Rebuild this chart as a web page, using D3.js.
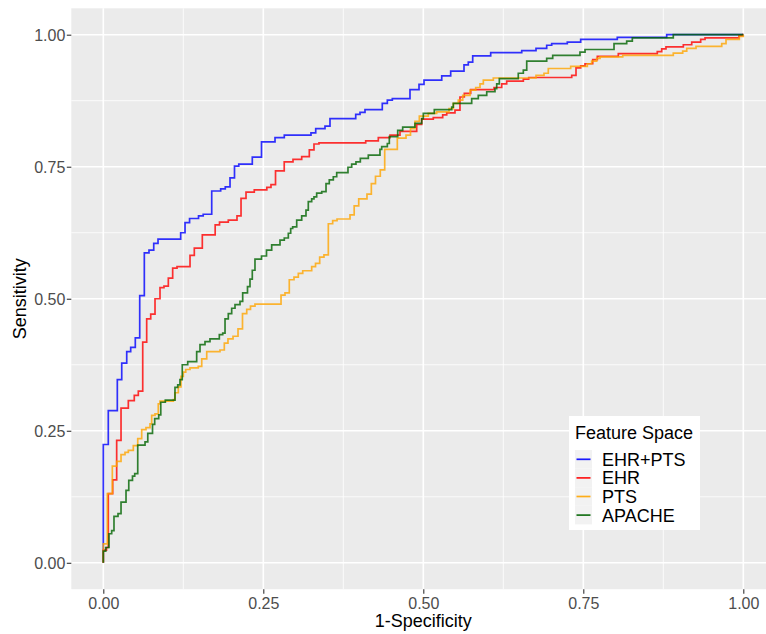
<!DOCTYPE html>
<html>
<head>
<meta charset="utf-8">
<script src="https://cdn.jsdelivr.net/npm/d3@7"></script>
<style>
  html, body { margin: 0; padding: 0; background: #fff; }
  svg { display: block; font-family: "Liberation Sans", Arial, Helvetica, sans-serif; }
</style>
</head>
<body>
<svg id="chart" width="766" height="634"></svg>
<script>
// ---- data ----
const seriesNames = ["EHR+PTS", "EHR", "PTS", "APACHE"];
const seriesColors = ["#0000FF", "#FF0000", "#FFA500", "#006400"];
const xTicks = [0, 0.25, 0.5, 0.75, 1];
const yTicks = [0, 0.25, 0.5, 0.75, 1];
const tickLabels = ["0.00", "0.25", "0.50", "0.75", "1.00"];

const rocEhrPts = [[0,0],[0,0.224],[0.0078,0.288],[0.0219,0.347],[0.0288,0.378],[0.0366,0.400],[0.0428,0.408],[0.050,0.426],[0.0569,0.506],[0.0641,0.587],[0.0714,0.592],[0.0788,0.605],[0.0855,0.613],[0.1209,0.625],[0.1277,0.644],[0.1348,0.652],[0.1488,0.657],[0.1561,0.660],[0.1694,0.704],[0.1834,0.708],[0.1906,0.712],[0.198,0.729],[0.205,0.751],[0.2117,0.755],[0.2328,0.768],[0.2472,0.797],[0.2683,0.805],[0.2828,0.810],[0.3245,0.814],[0.3319,0.822],[0.3464,0.827],[0.3542,0.841],[0.3944,0.849],[0.4011,0.853],[0.4089,0.858],[0.4359,0.870],[0.4438,0.876],[0.4516,0.879],[0.4792,0.896],[0.4933,0.906],[0.5011,0.914],[0.5288,0.922],[0.5428,0.931],[0.5636,0.943],[0.5703,0.948],[0.5772,0.960],[0.6053,0.966],[0.6538,0.970],[0.6761,0.974],[0.6928,0.980],[0.7006,0.983],[0.725,0.986],[0.7459,0.991],[0.8031,0.995],[0.8803,1.0],[1,1]];

const rocEhr = [[0,0],[0,0.024],[0.005,0.029],[0.0078,0.131],[0.0147,0.157],[0.0209,0.232],[0.0277,0.293],[0.0391,0.307],[0.0484,0.317],[0.0547,0.325],[0.0616,0.418],[0.0678,0.462],[0.0741,0.471],[0.0808,0.500],[0.0886,0.521],[0.0948,0.524],[0.1016,0.539],[0.1084,0.558],[0.1152,0.561],[0.1355,0.582],[0.1422,0.596],[0.1547,0.621],[0.1748,0.640],[0.1816,0.645],[0.1953,0.649],[0.2089,0.657],[0.2152,0.690],[0.223,0.702],[0.2359,0.706],[0.2555,0.711],[0.262,0.716],[0.2691,0.742],[0.2827,0.759],[0.2964,0.764],[0.31,0.769],[0.3219,0.782],[0.3292,0.793],[0.337,0.795],[0.41,0.799],[0.4297,0.805],[0.448,0.810],[0.4636,0.817],[0.4897,0.830],[0.4975,0.840],[0.5156,0.843],[0.5303,0.848],[0.5366,0.852],[0.5495,0.857],[0.5573,0.882],[0.5641,0.889],[0.5741,0.896],[0.6105,0.900],[0.6225,0.907],[0.6303,0.912],[0.6563,0.916],[0.6647,0.919],[0.7319,0.923],[0.7386,0.937],[0.7459,0.941],[0.7527,0.945],[0.7647,0.953],[0.7719,0.959],[0.8047,0.964],[0.8656,0.968],[0.8725,0.973],[0.8792,0.977],[0.9063,0.981],[0.9194,0.986],[0.9334,0.991],[0.9402,0.994],[0.9933,0.998],[0.9991,1.0],[1,1]];

const rocPts = [[0,0],[0,0.036],[0.0063,0.131],[0.0141,0.183],[0.0209,0.192],[0.0277,0.205],[0.0339,0.209],[0.0391,0.213],[0.0469,0.222],[0.0538,0.235],[0.06,0.252],[0.0667,0.256],[0.073,0.263],[0.0756,0.279],[0.0808,0.282],[0.0859,0.301],[0.0886,0.306],[0.1094,0.309],[0.112,0.322],[0.1172,0.333],[0.1214,0.353],[0.125,0.361],[0.1288,0.366],[0.1355,0.369],[0.1484,0.372],[0.1538,0.386],[0.1616,0.400],[0.1823,0.403],[0.1891,0.416],[0.1948,0.424],[0.2027,0.429],[0.2105,0.443],[0.2175,0.472],[0.2241,0.480],[0.23,0.486],[0.237,0.490],[0.2777,0.507],[0.2839,0.511],[0.2906,0.536],[0.298,0.541],[0.3047,0.548],[0.3116,0.553],[0.3256,0.561],[0.3316,0.567],[0.3381,0.579],[0.3448,0.583],[0.3516,0.642],[0.3584,0.648],[0.3652,0.651],[0.3855,0.659],[0.392,0.676],[0.3991,0.689],[0.412,0.698],[0.4188,0.718],[0.4253,0.732],[0.4328,0.744],[0.4397,0.783],[0.4594,0.804],[0.473,0.810],[0.48,0.822],[0.487,0.836],[0.4938,0.846],[0.5078,0.851],[0.5209,0.854],[0.5402,0.860],[0.5469,0.870],[0.5547,0.876],[0.5616,0.885],[0.573,0.895],[0.5819,0.900],[0.5886,0.907],[0.5938,0.914],[0.6094,0.918],[0.6761,0.923],[0.6886,0.927],[0.6953,0.936],[0.7303,0.940],[0.7563,0.945],[0.7631,0.950],[0.7709,0.955],[0.7761,0.958],[0.8116,0.961],[0.8906,0.965],[0.9053,0.969],[0.9116,0.974],[0.9261,0.978],[0.9663,0.983],[0.973,0.991],[0.9938,0.997],[1,1]];

const rocApache = [[0,0],[0,0.022],[0.0038,0.029],[0.0089,0.055],[0.0131,0.061],[0.0167,0.088],[0.023,0.093],[0.0277,0.115],[0.0355,0.137],[0.0398,0.156],[0.0456,0.164],[0.0491,0.169],[0.0538,0.223],[0.0652,0.229],[0.0695,0.245],[0.0769,0.262],[0.0803,0.273],[0.0866,0.280],[0.0898,0.304],[0.0969,0.308],[0.112,0.332],[0.1163,0.337],[0.1198,0.347],[0.1234,0.375],[0.1319,0.381],[0.1459,0.400],[0.1511,0.413],[0.1589,0.419],[0.1667,0.424],[0.1813,0.432],[0.1866,0.435],[0.1902,0.462],[0.1953,0.472],[0.2006,0.482],[0.2058,0.489],[0.2136,0.495],[0.2178,0.511],[0.2253,0.523],[0.2292,0.537],[0.2328,0.554],[0.237,0.575],[0.2472,0.581],[0.255,0.592],[0.2631,0.602],[0.2761,0.611],[0.2828,0.615],[0.2891,0.624],[0.2928,0.633],[0.2959,0.636],[0.3022,0.649],[0.31,0.657],[0.3167,0.668],[0.3203,0.684],[0.3256,0.689],[0.3292,0.693],[0.3334,0.700],[0.3413,0.703],[0.348,0.718],[0.3531,0.725],[0.3594,0.731],[0.3647,0.739],[0.3823,0.749],[0.3881,0.755],[0.3948,0.759],[0.4016,0.766],[0.4141,0.772],[0.4323,0.783],[0.435,0.788],[0.4438,0.794],[0.4469,0.807],[0.46,0.819],[0.4678,0.825],[0.487,0.832],[0.4975,0.841],[0.5,0.851],[0.5172,0.858],[0.5444,0.863],[0.5469,0.870],[0.5756,0.879],[0.5859,0.885],[0.5991,0.892],[0.612,0.898],[0.6147,0.907],[0.6188,0.917],[0.6484,0.927],[0.6563,0.933],[0.6616,0.950],[0.6928,0.955],[0.7022,0.961],[0.7448,0.967],[0.7527,0.972],[0.798,0.983],[0.8178,0.988],[0.8266,0.994],[0.8906,1.0],[1,1]];

const seriesData = [rocEhrPts, rocEhr, rocPts, rocApache];

// ---- layout ----
const svg = d3.select("#chart");
const panel = { left: 71.3, right: 775.3, top: 8.3, bottom: 589.2 };
const x = d3.scaleLinear().domain([-0.05, 1.05]).range([panel.left, panel.right]);
const y = d3.scaleLinear().domain([-0.05, 1.05]).range([panel.bottom, panel.top]);

// panel background
svg.append("rect")
  .attr("x", panel.left).attr("y", panel.top)
  .attr("width", panel.right - panel.left).attr("height", panel.bottom - panel.top)
  .attr("fill", "#EBEBEB");

// minor grid
const minor = [0.125, 0.375, 0.625, 0.875];
const g = svg.append("g");
g.selectAll(".vminor").data(minor).enter().append("line")
  .attr("x1", d => x(d)).attr("x2", d => x(d))
  .attr("y1", panel.top).attr("y2", panel.bottom)
  .attr("stroke", "#fff").attr("stroke-width", 0.8);
g.selectAll(".hminor").data(minor).enter().append("line")
  .attr("y1", d => y(d)).attr("y2", d => y(d))
  .attr("x1", panel.left).attr("x2", panel.right)
  .attr("stroke", "#fff").attr("stroke-width", 0.8);
// major grid
g.selectAll(".vmajor").data(xTicks).enter().append("line")
  .attr("x1", d => x(d)).attr("x2", d => x(d))
  .attr("y1", panel.top).attr("y2", panel.bottom)
  .attr("stroke", "#fff").attr("stroke-width", 1.6);
g.selectAll(".hmajor").data(yTicks).enter().append("line")
  .attr("y1", d => y(d)).attr("y2", d => y(d))
  .attr("x1", panel.left).attr("x2", panel.right)
  .attr("stroke", "#fff").attr("stroke-width", 1.6);

// curves
const line = d3.line().x(d => x(d[0])).y(d => y(d[1])).curve(d3.curveStepAfter);
seriesData.forEach((data, i) => {
  svg.append("path")
    .datum(data)
    .attr("d", line)
    .attr("fill", "none")
    .attr("stroke", seriesColors[i])
    .attr("stroke-width", 1.7)
    .attr("stroke-opacity", 0.8)
    .attr("stroke-linejoin", "miter");
});

// axes
const xAxis = d3.axisBottom(x).tickValues(xTicks).tickFormat((d, i) => tickLabels[i]).tickSize(4.5).tickPadding(4);
const yAxis = d3.axisLeft(y).tickValues(yTicks).tickFormat((d, i) => tickLabels[i]).tickSize(4.5).tickPadding(4);

const gx = svg.append("g").attr("transform", `translate(0,${panel.bottom})`).call(xAxis);
const gy = svg.append("g").attr("transform", `translate(${panel.left},0)`).call(yAxis);
[gx, gy].forEach(a => {
  a.select(".domain").remove();
  a.selectAll(".tick line").attr("stroke", "#333333").attr("stroke-width", 1.1);
  a.selectAll(".tick text").attr("fill", "#4D4D4D").style("font-size", "16px")
    .style("font-family", "'Liberation Sans', Arial, sans-serif");
});
gx.selectAll(".tick text").attr("dy", null).attr("y", 19.5);
gy.selectAll(".tick text").attr("dy", "0.36em").attr("x", -6);

// axis titles
svg.append("text")
  .attr("x", x(0.5)).attr("y", 627)
  .attr("text-anchor", "middle")
  .style("font-size", "18px").attr("fill", "#000")
  .text("1-Specificity");
svg.append("text")
  .attr("transform", `translate(26,${(panel.top + panel.bottom) / 2}) rotate(-90)`)
  .attr("text-anchor", "middle")
  .style("font-size", "18px").attr("fill", "#000")
  .text("Sensitivity");

// legend
const lg = svg.append("g").attr("transform", "translate(569,416)");
lg.append("rect").attr("width", 131).attr("height", 114).attr("fill", "#fff");
lg.append("text").attr("x", 6).attr("y", 23)
  .style("font-size", "18px").attr("fill", "#000").text("Feature Space");
const keyH = 18.6;
seriesNames.forEach((name, i) => {
  const ky = 34 + i * keyH;
  lg.append("rect").attr("x", 6).attr("y", ky).attr("width", 17).attr("height", keyH)
    .attr("fill", "#F2F2F2");
  lg.append("line").attr("x1", 7.5).attr("x2", 21.5)
    .attr("y1", ky + keyH / 2).attr("y2", ky + keyH / 2)
    .attr("stroke", seriesColors[i]).attr("stroke-width", 1.7).attr("stroke-opacity", 0.9);
  lg.append("text").attr("x", 33).attr("y", ky + keyH / 2 + 6.5)
    .style("font-size", "18px").attr("fill", "#000").text(name);
});
</script>
</body>
</html>
